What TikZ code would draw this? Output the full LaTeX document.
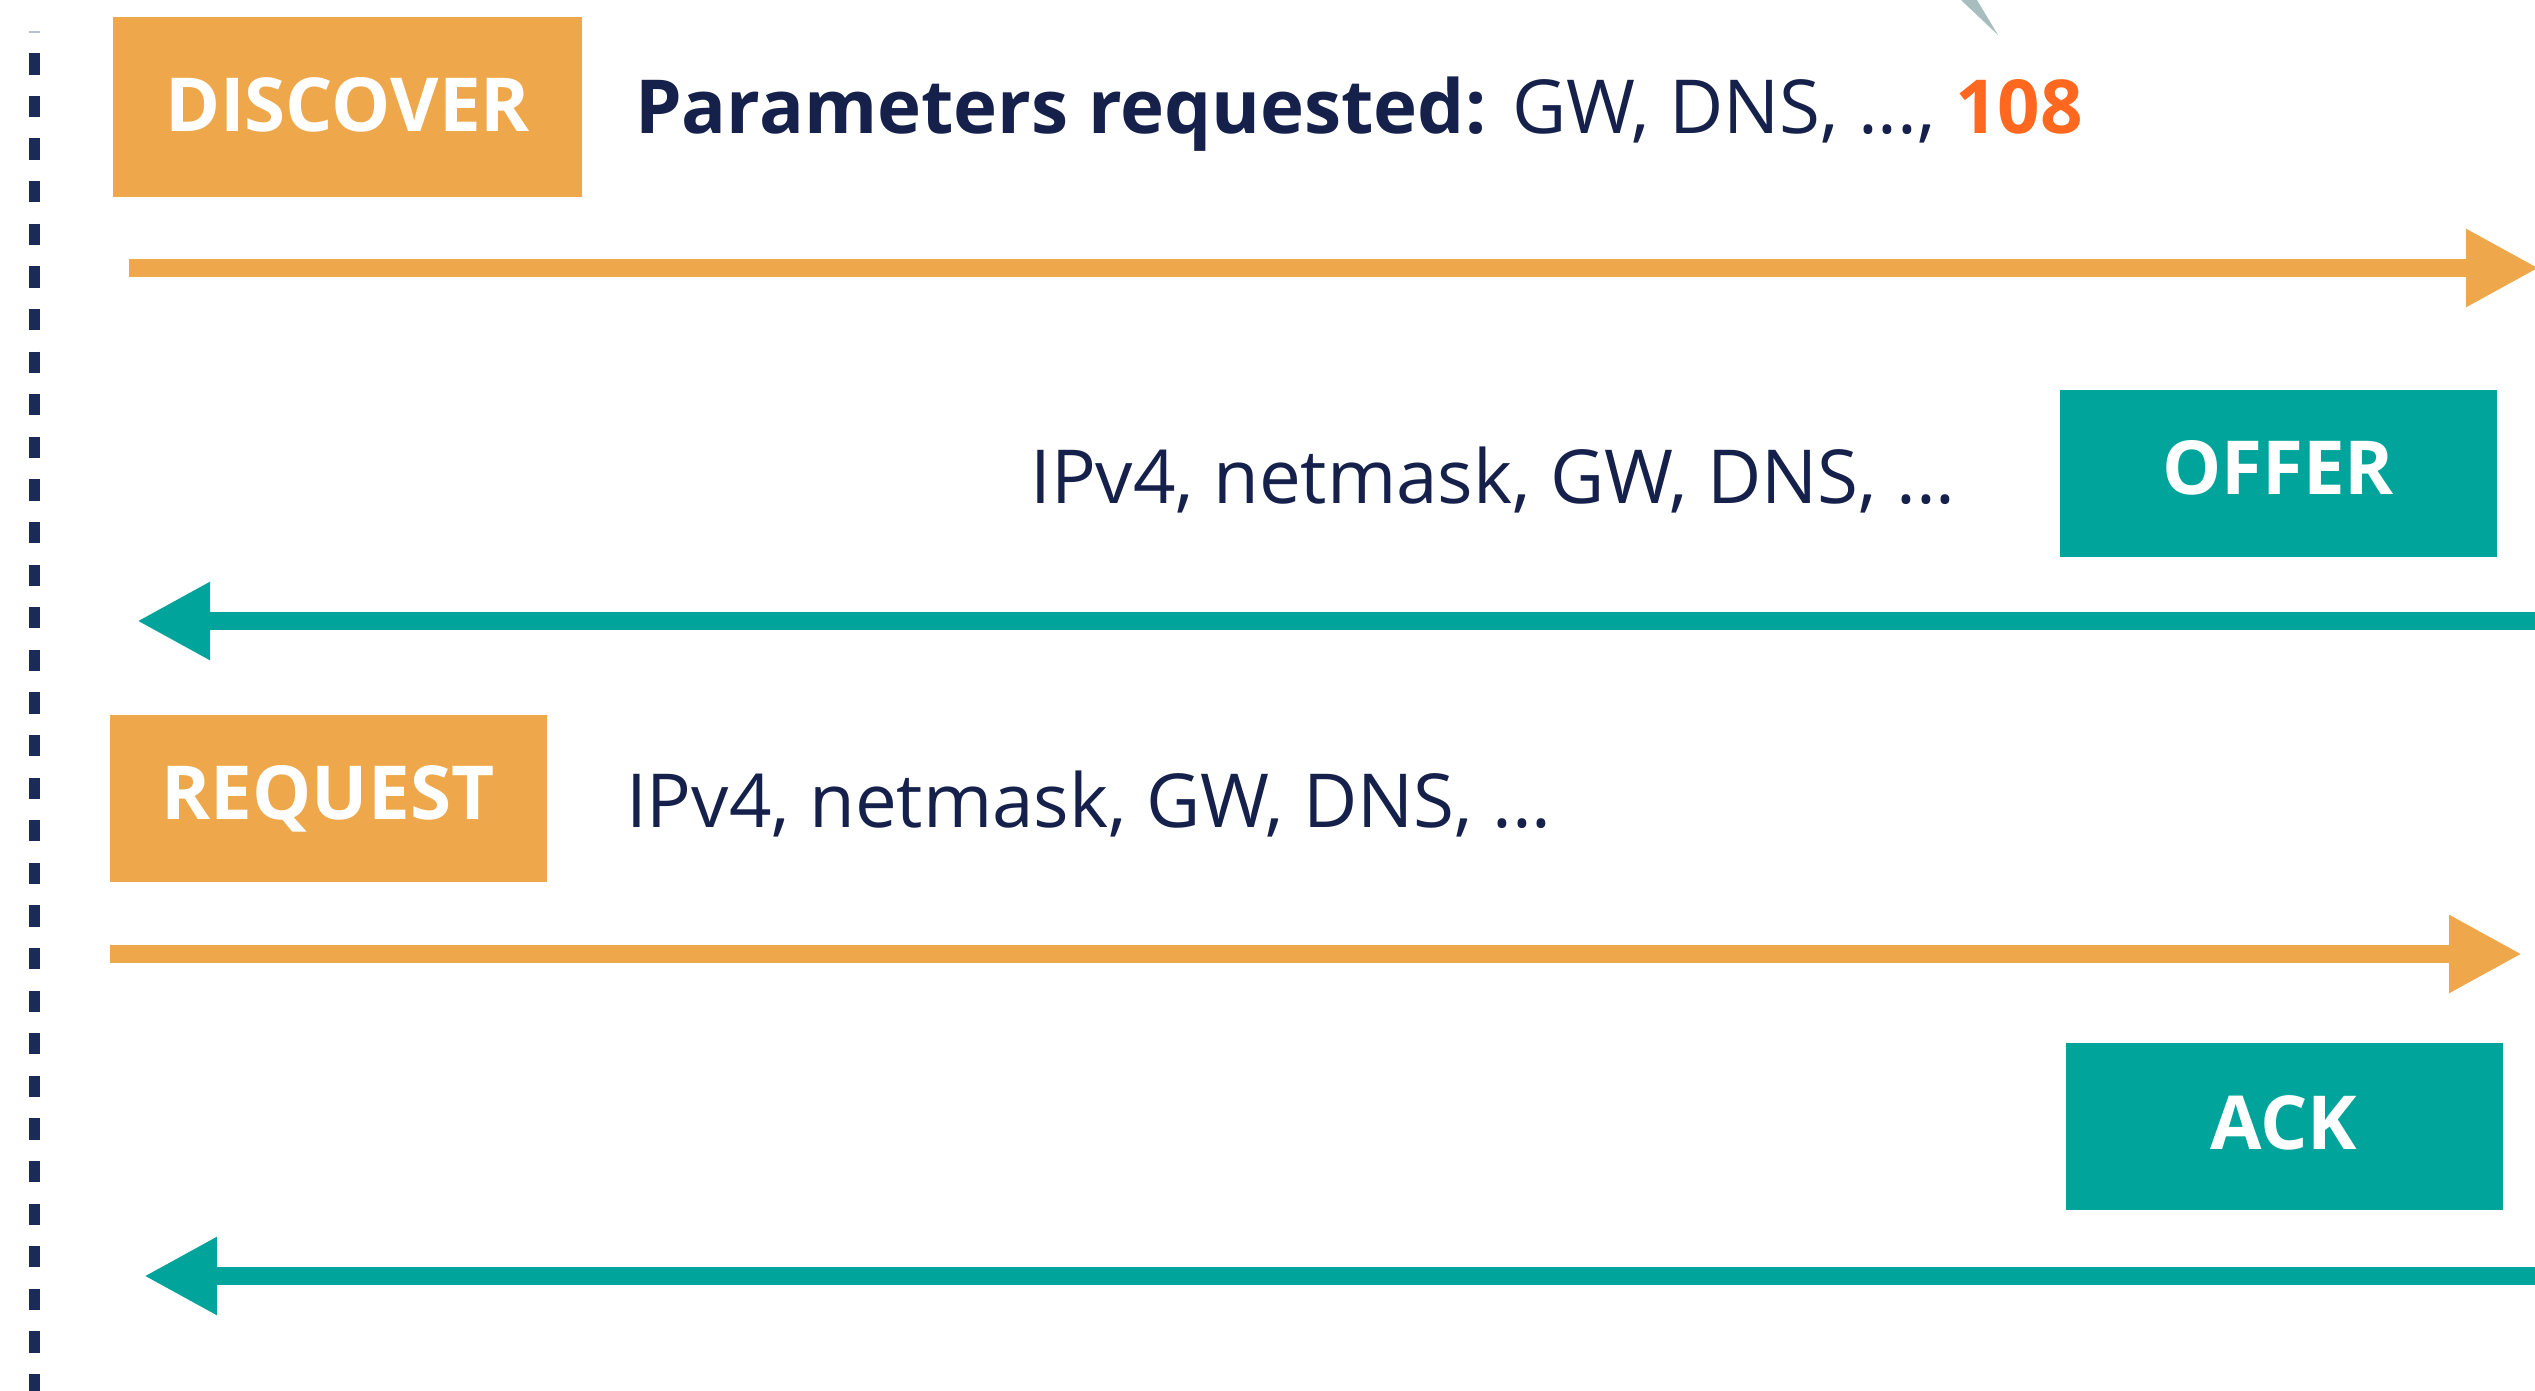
\documentclass[tikz,border=0pt]{standalone}
\usepackage{fontspec}
\setmainfont{Open Sans}
\usetikzlibrary{arrows.meta}

\definecolor{msgorange}{HTML}{EEA84B}
\definecolor{msgteal}{HTML}{00A49A}
\definecolor{inktext}{HTML}{15214B}
\definecolor{lifeline}{HTML}{1B2B57}
\definecolor{hilite}{HTML}{FF681E}
\definecolor{wedgegrey}{HTML}{A8BEBE}

\begin{document}
\begin{tikzpicture}[x=1pt,y=-1pt,
  msglabel/.style={font=\fontsize{74.5}{90}\selectfont\bfseries, text=white,
    inner sep=0pt, text height=53.5pt, text depth=15pt,
    minimum height=167pt, minimum width=437pt},
  clientmsg/.style={msglabel, fill=msgorange},
  servermsg/.style={msglabel, fill=msgteal},
  info/.style={font=\fontsize{74.5}{90}\selectfont, text=inktext, inner sep=0pt},
  flow/.style={line width=18pt, -{Triangle[length=73pt,width=73pt]}},
]
\useasboundingbox (0,0) rectangle (2535,1391);

% client lifeline
\coordinate (lifetop) at (34.5,53.3);
\coordinate (lifebot) at (34.5,1400);
\draw[lifeline, line width=11pt, dash pattern=on 21.3pt off 21.3pt] (lifetop) -- (lifebot);
\draw[lifeline!30, line width=2pt] (29,32) -- (40,32);

% corner of a shape above
\fill[wedgegrey] (1961,0) -- (1977,0) -- (1998,35) -- cycle;

% DISCOVER
\node[clientmsg, minimum width=469pt, minimum height=180pt, text depth=5pt] (discover) at (347.5,107.5) {DISCOVER};
\node[info, anchor=base west] (discoverinfo) at (635,133.5)
  {{\bfseries Parameters requested:} GW, DNS, ..., {\bfseries\color{hilite}108}};
\coordinate (d1) at (129,268);
\coordinate (d2) at (2539,268);
\draw[flow, msgorange] (d1) -- (d2);

% OFFER
\node[servermsg, text depth=11.5pt] (offer) at (2278,473) {OFFER};
\node[info, anchor=base east] (offerinfo) at (1956,503.5) {IPv4, netmask, GW, DNS, ...};
\coordinate (o1) at (2545,621);
\coordinate (o2) at (137,621);
\draw[flow, msgteal] (o1) -- (o2);

% REQUEST
\node[clientmsg, text depth=11.5pt] (request) at (328,798) {REQUEST};
\node[info, anchor=base west] (requestinfo) at (626,827) {IPv4, netmask, GW, DNS, ...};
\coordinate (r1) at (110,954);
\coordinate (r2) at (2522,954);
\draw[flow, msgorange] (r1) -- (r2);

% ACK
\node[servermsg, text depth=7.5pt] (ack) at (2284,1126) {ACK};
\coordinate (a1) at (2545,1276);
\coordinate (a2) at (144,1276);
\draw[flow, msgteal] (a1) -- (a2);

\end{tikzpicture}
\end{document}
